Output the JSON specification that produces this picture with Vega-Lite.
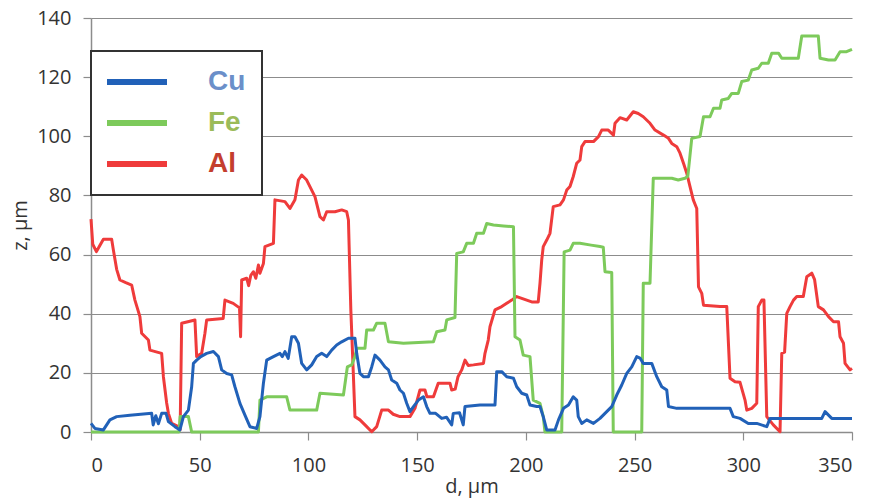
{
 "$schema": "https://vega.github.io/schema/vega-lite/v6.json",
 "width": 761,
 "height": 414,
 "autosize": {"type": "none"},
 "padding": {"left": 91, "top": 18, "right": 25, "bottom": 68},
 "background": "white",
 "config": {
  "view": {"stroke": null},
  "axis": {
   "labelFont": "Open Sans", "labelFontSize": 20, "labelColor": "#333",
   "titleFont": "Open Sans", "titleFontSize": 20, "titleColor": "#333", "titleFontWeight": "normal",
   "domainColor": "#8c8c8c", "domainWidth": 1.5, "tickColor": "#8c8c8c", "tickSize": 8, "tickWidth": 1.2,
   "gridColor": "#8c8c8c", "gridWidth": 1.2
  }
 },
 "data": {"values": [
  {"el":"Al","d":0,"z":72},{"el":"Al","d":0.8,"z":63.5},{"el":"Al","d":2.5,"z":61},{"el":"Al","d":4,"z":63},{"el":"Al","d":5.7,"z":65.2},{"el":"Al","d":9.5,"z":65.2},{"el":"Al","d":10.3,"z":61.5},{"el":"Al","d":11.8,"z":55},{"el":"Al","d":13.3,"z":51.4},{"el":"Al","d":16,"z":50.5},{"el":"Al","d":18.7,"z":49.7},{"el":"Al","d":20.2,"z":44.6},{"el":"Al","d":22.5,"z":39},{"el":"Al","d":23.3,"z":33.4},{"el":"Al","d":26.4,"z":31.1},{"el":"Al","d":27.1,"z":27.7},{"el":"Al","d":32.5,"z":26.6},{"el":"Al","d":33.3,"z":18.7},{"el":"Al","d":34.8,"z":9.8},{"el":"Al","d":35.6,"z":6.3},{"el":"Al","d":37.1,"z":2.9},{"el":"Al","d":40.2,"z":1.8},{"el":"Al","d":41,"z":0.8},{"el":"Al","d":41.7,"z":36.8},{"el":"Al","d":47.8,"z":37.9},{"el":"Al","d":48.6,"z":25.5},{"el":"Al","d":50.9,"z":26.6},{"el":"Al","d":52.4,"z":33.4},{"el":"Al","d":53.2,"z":37.9},{"el":"Al","d":60.8,"z":38.4},{"el":"Al","d":61.6,"z":44.6},{"el":"Al","d":65.4,"z":43.5},{"el":"Al","d":67.5,"z":42.4},{"el":"Al","d":68.3,"z":42},{"el":"Al","d":68.8,"z":32.2},{"el":"Al","d":69.3,"z":51.4},{"el":"Al","d":71.6,"z":52},{"el":"Al","d":72.5,"z":49.5},{"el":"Al","d":73.5,"z":53},{"el":"Al","d":74.7,"z":54.2},{"el":"Al","d":75.8,"z":52},{"el":"Al","d":77,"z":56.5},{"el":"Al","d":77.7,"z":53.7},{"el":"Al","d":79.3,"z":57},{"el":"Al","d":80,"z":62.7},{"el":"Al","d":83.9,"z":63.8},{"el":"Al","d":84.6,"z":78.5},{"el":"Al","d":89.2,"z":77.9},{"el":"Al","d":91.5,"z":75.6},{"el":"Al","d":93.8,"z":78.5},{"el":"Al","d":95.4,"z":85.2},{"el":"Al","d":96.9,"z":86.9},{"el":"Al","d":99.2,"z":85.2},{"el":"Al","d":101.5,"z":81.8},{"el":"Al","d":103,"z":79.6},{"el":"Al","d":105.3,"z":72.8},{"el":"Al","d":106.9,"z":71.7},{"el":"Al","d":108.4,"z":74.5},{"el":"Al","d":112.2,"z":74.5},{"el":"Al","d":115.3,"z":75.1},{"el":"Al","d":117.6,"z":74.5},{"el":"Al","d":118.4,"z":71.7},{"el":"Al","d":119.5,"z":41.3},{"el":"Al","d":120.7,"z":18.7},{"el":"Al","d":121.4,"z":5.2},{"el":"Al","d":123.7,"z":4.1},{"el":"Al","d":126.8,"z":1.8},{"el":"Al","d":129.1,"z":0.1},{"el":"Al","d":131.4,"z":1.8},{"el":"Al","d":133.7,"z":7.4},{"el":"Al","d":136.8,"z":7.4},{"el":"Al","d":139,"z":6},{"el":"Al","d":142.1,"z":5.2},{"el":"Al","d":146.7,"z":5.2},{"el":"Al","d":149,"z":8},{"el":"Al","d":151.3,"z":14.2},{"el":"Al","d":153.6,"z":14.2},{"el":"Al","d":154.5,"z":11.9},{"el":"Al","d":157.5,"z":11.9},{"el":"Al","d":159.7,"z":16.5},{"el":"Al","d":165.1,"z":16.5},{"el":"Al","d":165.9,"z":14.2},{"el":"Al","d":167.5,"z":14.5},{"el":"Al","d":168.8,"z":18.7},{"el":"Al","d":170.5,"z":21},{"el":"Al","d":172,"z":24.3},{"el":"Al","d":173.5,"z":22.5},{"el":"Al","d":175.9,"z":22.7},{"el":"Al","d":180.5,"z":23.2},{"el":"Al","d":181.2,"z":26.6},{"el":"Al","d":182.7,"z":31.1},{"el":"Al","d":183.5,"z":35.6},{"el":"Al","d":185.8,"z":41.3},{"el":"Al","d":188.9,"z":42.4},{"el":"Al","d":191.2,"z":43.5},{"el":"Al","d":193.5,"z":44.6},{"el":"Al","d":195.8,"z":45.8},{"el":"Al","d":200.4,"z":44.6},{"el":"Al","d":202.7,"z":44},{"el":"Al","d":205.7,"z":44},{"el":"Al","d":206.5,"z":50.3},{"el":"Al","d":207.3,"z":58.2},{"el":"Al","d":208,"z":62.7},{"el":"Al","d":209.6,"z":64.9},{"el":"Al","d":211.1,"z":67.2},{"el":"Al","d":212.6,"z":76.2},{"el":"Al","d":215.7,"z":76.8},{"el":"Al","d":217.3,"z":78.5},{"el":"Al","d":218.8,"z":81.8},{"el":"Al","d":220.3,"z":83},{"el":"Al","d":221.8,"z":86.4},{"el":"Al","d":223.4,"z":90.9},{"el":"Al","d":224.9,"z":92},{"el":"Al","d":225.7,"z":96.5},{"el":"Al","d":227.2,"z":98.2},{"el":"Al","d":231.1,"z":98.2},{"el":"Al","d":233.4,"z":99.9},{"el":"Al","d":234.9,"z":102.1},{"el":"Al","d":237.9,"z":102.1},{"el":"Al","d":240.3,"z":100.4},{"el":"Al","d":241,"z":104.4},{"el":"Al","d":243.3,"z":106.3},{"el":"Al","d":246.4,"z":105.5},{"el":"Al","d":249.4,"z":108.3},{"el":"Al","d":251.7,"z":107.7},{"el":"Al","d":254,"z":106.6},{"el":"Al","d":257.1,"z":104.4},{"el":"Al","d":259.4,"z":102.1},{"el":"Al","d":263.3,"z":100.4},{"el":"Al","d":265.6,"z":99.3},{"el":"Al","d":267.1,"z":97.6},{"el":"Al","d":269.4,"z":96.5},{"el":"Al","d":270.9,"z":94.3},{"el":"Al","d":272.5,"z":90.9},{"el":"Al","d":274,"z":87.5},{"el":"Al","d":275.5,"z":83},{"el":"Al","d":277,"z":78.5},{"el":"Al","d":278.6,"z":75.6},{"el":"Al","d":279.4,"z":49.1},{"el":"Al","d":280.9,"z":46.9},{"el":"Al","d":281.7,"z":42.9},{"el":"Al","d":289.3,"z":42.4},{"el":"Al","d":292.4,"z":42.4},{"el":"Al","d":293.9,"z":18.2},{"el":"Al","d":296.2,"z":17},{"el":"Al","d":298.5,"z":16.8},{"el":"Al","d":300.8,"z":10.8},{"el":"Al","d":301.6,"z":7.4},{"el":"Al","d":303.9,"z":8},{"el":"Al","d":306.2,"z":9.7},{"el":"Al","d":306.9,"z":42.4},{"el":"Al","d":308.5,"z":44.6},{"el":"Al","d":309.5,"z":44.6},{"el":"Al","d":310.8,"z":5.2},{"el":"Al","d":313.8,"z":2.4},{"el":"Al","d":316.9,"z":0.1},{"el":"Al","d":317.7,"z":26.6},{"el":"Al","d":319,"z":27},{"el":"Al","d":320,"z":40.1},{"el":"Al","d":321.5,"z":42.4},{"el":"Al","d":323.1,"z":44.6},{"el":"Al","d":324.6,"z":45.8},{"el":"Al","d":327.6,"z":45.8},{"el":"Al","d":329.2,"z":52.5},{"el":"Al","d":331.5,"z":53.7},{"el":"Al","d":332.8,"z":51.5},{"el":"Al","d":334.5,"z":42.4},{"el":"Al","d":336.9,"z":41.3},{"el":"Al","d":339.2,"z":39},{"el":"Al","d":341.5,"z":37.3},{"el":"Al","d":343.8,"z":37.3},{"el":"Al","d":344.5,"z":32.2},{"el":"Al","d":346.1,"z":30},{"el":"Al","d":346.8,"z":23.2},{"el":"Al","d":349.1,"z":21},{"el":"Al","d":350,"z":21.5},
  {"el":"Fe","d":0,"z":0},{"el":"Fe","d":40.5,"z":0},{"el":"Fe","d":41,"z":5.2},{"el":"Fe","d":44.8,"z":5.2},{"el":"Fe","d":46.3,"z":0},{"el":"Fe","d":77,"z":0},{"el":"Fe","d":77.7,"z":10.8},{"el":"Fe","d":80.8,"z":11.9},{"el":"Fe","d":90,"z":11.9},{"el":"Fe","d":91.5,"z":7.4},{"el":"Fe","d":103.8,"z":7.4},{"el":"Fe","d":105.3,"z":13.1},{"el":"Fe","d":116.1,"z":12.5},{"el":"Fe","d":117.9,"z":22},{"el":"Fe","d":119.9,"z":22.7},{"el":"Fe","d":121.4,"z":25.5},{"el":"Fe","d":122.2,"z":28.3},{"el":"Fe","d":126,"z":28.3},{"el":"Fe","d":126.8,"z":34.5},{"el":"Fe","d":129.9,"z":34.5},{"el":"Fe","d":131.4,"z":36.8},{"el":"Fe","d":135.2,"z":36.8},{"el":"Fe","d":136.8,"z":30.5},{"el":"Fe","d":143.7,"z":30},{"el":"Fe","d":157.5,"z":30.5},{"el":"Fe","d":159,"z":33.9},{"el":"Fe","d":162.8,"z":34.5},{"el":"Fe","d":163.6,"z":37.9},{"el":"Fe","d":167.4,"z":38.7},{"el":"Fe","d":168.2,"z":60.4},{"el":"Fe","d":171.2,"z":60.9},{"el":"Fe","d":172.8,"z":63.8},{"el":"Fe","d":175.9,"z":63.8},{"el":"Fe","d":177.4,"z":67.2},{"el":"Fe","d":180.5,"z":67.2},{"el":"Fe","d":182,"z":70.5},{"el":"Fe","d":185.1,"z":70},{"el":"Fe","d":189.7,"z":69.7},{"el":"Fe","d":194.3,"z":69.4},{"el":"Fe","d":195,"z":32.2},{"el":"Fe","d":197.3,"z":31.1},{"el":"Fe","d":198.8,"z":26},{"el":"Fe","d":201.9,"z":25.5},{"el":"Fe","d":203.4,"z":10.8},{"el":"Fe","d":206.5,"z":9.7},{"el":"Fe","d":208,"z":5.2},{"el":"Fe","d":208.8,"z":0},{"el":"Fe","d":216.5,"z":0},{"el":"Fe","d":217.6,"z":60.9},{"el":"Fe","d":220.3,"z":61.5},{"el":"Fe","d":221.8,"z":63.8},{"el":"Fe","d":224.9,"z":63.8},{"el":"Fe","d":230,"z":63.2},{"el":"Fe","d":234.1,"z":62.7},{"el":"Fe","d":235.6,"z":62.5},{"el":"Fe","d":236.4,"z":54.2},{"el":"Fe","d":239.5,"z":53.9},{"el":"Fe","d":240.2,"z":0},{"el":"Fe","d":253.3,"z":0},{"el":"Fe","d":254,"z":50.3},{"el":"Fe","d":257.1,"z":50.3},{"el":"Fe","d":258.6,"z":85.8},{"el":"Fe","d":267.1,"z":85.8},{"el":"Fe","d":270.1,"z":85.2},{"el":"Fe","d":273.2,"z":85.8},{"el":"Fe","d":274.5,"z":86.5},{"el":"Fe","d":276.3,"z":99.3},{"el":"Fe","d":280.1,"z":99.9},{"el":"Fe","d":281.7,"z":106.6},{"el":"Fe","d":284.7,"z":106.6},{"el":"Fe","d":286.3,"z":109.5},{"el":"Fe","d":289.3,"z":109.5},{"el":"Fe","d":290.1,"z":112.3},{"el":"Fe","d":293.1,"z":112.8},{"el":"Fe","d":294.7,"z":114.5},{"el":"Fe","d":297.7,"z":114.5},{"el":"Fe","d":299.3,"z":118.5},{"el":"Fe","d":302.3,"z":119},{"el":"Fe","d":303.9,"z":122.4},{"el":"Fe","d":306.9,"z":123},{"el":"Fe","d":308.5,"z":124.7},{"el":"Fe","d":311.5,"z":124.7},{"el":"Fe","d":313.1,"z":128.1},{"el":"Fe","d":316.2,"z":128.1},{"el":"Fe","d":317.7,"z":126.4},{"el":"Fe","d":325.3,"z":126.4},{"el":"Fe","d":326.9,"z":133.9},{"el":"Fe","d":334.5,"z":133.9},{"el":"Fe","d":335.3,"z":126.4},{"el":"Fe","d":339.2,"z":125.8},{"el":"Fe","d":342.2,"z":125.8},{"el":"Fe","d":344.5,"z":128.6},{"el":"Fe","d":347.5,"z":128.6},{"el":"Fe","d":350,"z":129.4},
  {"el":"Cu","d":0,"z":2.9},{"el":"Cu","d":1.8,"z":1.2},{"el":"Cu","d":5.7,"z":0.7},{"el":"Cu","d":8.7,"z":4.1},{"el":"Cu","d":11.8,"z":5.2},{"el":"Cu","d":17.9,"z":5.7},{"el":"Cu","d":27.9,"z":6.3},{"el":"Cu","d":28.6,"z":2.4},{"el":"Cu","d":29.8,"z":5.5},{"el":"Cu","d":31,"z":2.8},{"el":"Cu","d":32.5,"z":6.3},{"el":"Cu","d":34.5,"z":6.3},{"el":"Cu","d":35.6,"z":3.5},{"el":"Cu","d":38.6,"z":1.8},{"el":"Cu","d":40.9,"z":0.7},{"el":"Cu","d":42.5,"z":5.2},{"el":"Cu","d":44.8,"z":7.4},{"el":"Cu","d":46.3,"z":15.3},{"el":"Cu","d":47.1,"z":23.2},{"el":"Cu","d":48.6,"z":24.3},{"el":"Cu","d":50.5,"z":25.5},{"el":"Cu","d":53.2,"z":26.6},{"el":"Cu","d":56.3,"z":27.2},{"el":"Cu","d":58.6,"z":25.5},{"el":"Cu","d":60.1,"z":21},{"el":"Cu","d":62.4,"z":19.8},{"el":"Cu","d":64.7,"z":19.3},{"el":"Cu","d":66.2,"z":15.3},{"el":"Cu","d":68.5,"z":9.7},{"el":"Cu","d":70.8,"z":5.7},{"el":"Cu","d":73.1,"z":1.8},{"el":"Cu","d":76.2,"z":1.2},{"el":"Cu","d":77.7,"z":5.2},{"el":"Cu","d":79.3,"z":16.5},{"el":"Cu","d":80.8,"z":24.3},{"el":"Cu","d":83.9,"z":25.5},{"el":"Cu","d":86.9,"z":26.6},{"el":"Cu","d":88,"z":25.5},{"el":"Cu","d":89.2,"z":27.2},{"el":"Cu","d":90.7,"z":24.9},{"el":"Cu","d":92.3,"z":32.2},{"el":"Cu","d":93.8,"z":32.2},{"el":"Cu","d":95.4,"z":30},{"el":"Cu","d":96.9,"z":23.2},{"el":"Cu","d":99.2,"z":21},{"el":"Cu","d":101.5,"z":22.7},{"el":"Cu","d":103.8,"z":25.5},{"el":"Cu","d":106.1,"z":26.6},{"el":"Cu","d":108.4,"z":25.5},{"el":"Cu","d":110.7,"z":27.7},{"el":"Cu","d":113,"z":29.4},{"el":"Cu","d":115.3,"z":30.5},{"el":"Cu","d":118.4,"z":31.7},{"el":"Cu","d":121.4,"z":31.7},{"el":"Cu","d":122.2,"z":26.6},{"el":"Cu","d":123.7,"z":19.8},{"el":"Cu","d":125.3,"z":18.7},{"el":"Cu","d":127.6,"z":18.7},{"el":"Cu","d":129.1,"z":22},{"el":"Cu","d":130.6,"z":26},{"el":"Cu","d":132.9,"z":24.3},{"el":"Cu","d":135.2,"z":22},{"el":"Cu","d":136.8,"z":21},{"el":"Cu","d":138.3,"z":17.6},{"el":"Cu","d":140.6,"z":16.5},{"el":"Cu","d":142.1,"z":14.2},{"el":"Cu","d":143.7,"z":13.1},{"el":"Cu","d":145.2,"z":9.7},{"el":"Cu","d":146.7,"z":6.9},{"el":"Cu","d":148.3,"z":8.6},{"el":"Cu","d":150.6,"z":10.8},{"el":"Cu","d":152.9,"z":11.9},{"el":"Cu","d":154.4,"z":8.6},{"el":"Cu","d":155.9,"z":6.3},{"el":"Cu","d":158.5,"z":6.3},{"el":"Cu","d":161.3,"z":4.6},{"el":"Cu","d":163.5,"z":5},{"el":"Cu","d":165.9,"z":2.4},{"el":"Cu","d":166.6,"z":6.3},{"el":"Cu","d":169.5,"z":6.5},{"el":"Cu","d":171.2,"z":2.4},{"el":"Cu","d":172,"z":8.6},{"el":"Cu","d":178.9,"z":9.1},{"el":"Cu","d":185.8,"z":9.1},{"el":"Cu","d":186.6,"z":20.4},{"el":"Cu","d":188.9,"z":20.4},{"el":"Cu","d":191.2,"z":18.7},{"el":"Cu","d":194.3,"z":18.2},{"el":"Cu","d":195.8,"z":15.3},{"el":"Cu","d":198.1,"z":13.1},{"el":"Cu","d":200.4,"z":12.5},{"el":"Cu","d":201.9,"z":9.1},{"el":"Cu","d":205,"z":8.6},{"el":"Cu","d":206.5,"z":8.6},{"el":"Cu","d":208,"z":5.2},{"el":"Cu","d":209.6,"z":0.7},{"el":"Cu","d":213.4,"z":0.7},{"el":"Cu","d":215,"z":4.1},{"el":"Cu","d":217.3,"z":8},{"el":"Cu","d":219.6,"z":9.1},{"el":"Cu","d":221.8,"z":11.9},{"el":"Cu","d":223.4,"z":10.8},{"el":"Cu","d":224.1,"z":5.2},{"el":"Cu","d":225.7,"z":2.9},{"el":"Cu","d":228,"z":4.1},{"el":"Cu","d":231.1,"z":2.9},{"el":"Cu","d":234.1,"z":4.6},{"el":"Cu","d":237.2,"z":6.9},{"el":"Cu","d":239.5,"z":8.6},{"el":"Cu","d":241.8,"z":12.5},{"el":"Cu","d":244.1,"z":15.9},{"el":"Cu","d":246.4,"z":19.8},{"el":"Cu","d":248.7,"z":22},{"el":"Cu","d":251,"z":25.5},{"el":"Cu","d":252.5,"z":25},{"el":"Cu","d":254,"z":23.2},{"el":"Cu","d":257.9,"z":23.2},{"el":"Cu","d":260.2,"z":18.7},{"el":"Cu","d":262.5,"z":15.3},{"el":"Cu","d":264.8,"z":14.2},{"el":"Cu","d":265.6,"z":8.6},{"el":"Cu","d":269.4,"z":8},{"el":"Cu","d":278.6,"z":8},{"el":"Cu","d":293.9,"z":8},{"el":"Cu","d":295.4,"z":5.2},{"el":"Cu","d":298.5,"z":4.6},{"el":"Cu","d":302.3,"z":2.9},{"el":"Cu","d":306.2,"z":2.9},{"el":"Cu","d":310.8,"z":1.8},{"el":"Cu","d":312.3,"z":4.6},{"el":"Cu","d":336.1,"z":4.6},{"el":"Cu","d":337.6,"z":6.9},{"el":"Cu","d":340.7,"z":4.6},{"el":"Cu","d":350,"z":4.6}
 ]},
 "mark": {"type": "line", "strokeWidth": 3, "strokeJoin": "round"},
 "encoding": {
  "x": {"field": "d", "type": "quantitative", "scale": {"domain": [0, 350], "nice": false},
        "axis": {"values": [0, 50, 100, 150, 200, 250, 300, 350], "title": "d, µm", "grid": false, "labelPadding": 15, "titlePadding": 1}},
  "y": {"field": "z", "type": "quantitative", "scale": {"domain": [0, 140], "nice": false},
        "axis": {"values": [0, 20, 40, 60, 80, 100, 120, 140], "title": "z, µm", "grid": true, "labelPadding": 12, "titlePadding": 6}},
  "color": {"field": "el", "type": "nominal",
   "scale": {"domain": ["Cu", "Fe", "Al"], "range": ["#2161b8", "#7dca5b", "#ef3b3b"]},
   "legend": {
    "orient": "none", "legendX": 0, "legendY": 33, "title": null, "direction": "vertical",
    "symbolType": "stroke", "symbolSize": 3844, "symbolStrokeWidth": 6, "symbolOffset": -5,
    "clipHeight": 30,
    "labelFont": "Liberation Sans", "labelFontSize": 28, "labelFontWeight": "bold",
    "labelOffset": 38, "rowPadding": 11, "padding": 16,
    "labelExpr": "datum.label + '\u2003'",
    "fillColor": "white", "strokeColor": "#333",
    "encode": {
     "legend": {"update": {"strokeWidth": {"value": 2}}},
     "labels": {"update": {"fill": {"signal": "datum.value === 'Cu' ? '#6b8fc9' : datum.value === 'Fe' ? '#9bbb59' : '#c43e2e'"}}},
     "symbols": {"update": {"stroke": {"signal": "datum.value === 'Cu' ? '#6a8fc8' : datum.value === 'Fe' ? '#9cbb5f' : '#c96a60'"}}}
    }
   }
  }
 }
}
